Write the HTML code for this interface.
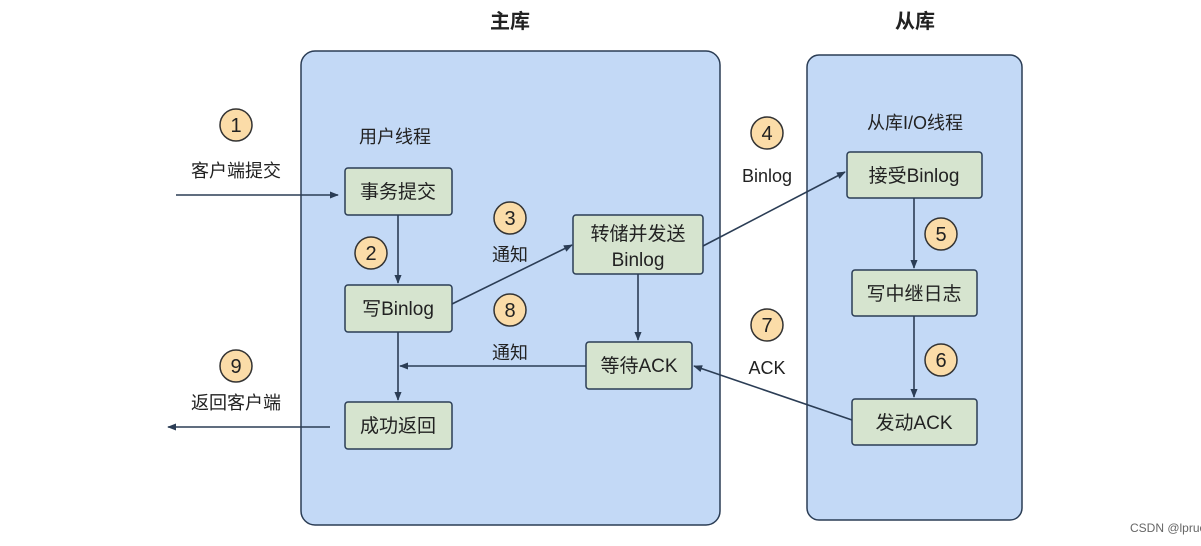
<!DOCTYPE html>
<html><head><meta charset="utf-8"><style>
html,body{margin:0;padding:0;background:#fff;}
svg{display:block;}
text{font-family:"Liberation Sans","Noto Sans CJK SC",sans-serif;fill:#222;}
</style></head><body>
<svg width="1201" height="546" viewBox="0 0 1201 546" xmlns="http://www.w3.org/2000/svg">
<defs>
<marker id="a" viewBox="0 0 10 10" refX="9" refY="5" markerWidth="9" markerHeight="9" orient="auto" markerUnits="userSpaceOnUse"><path d="M0,1 L10,5 L0,9 Z" fill="#2b3d55"/></marker>
</defs>
<rect x="301" y="51" width="419" height="474" rx="14" fill="#c3d9f6" stroke="#2b3d55" stroke-width="1.5"/>
<rect x="807" y="55" width="215" height="465" rx="12" fill="#c3d9f6" stroke="#2b3d55" stroke-width="1.5"/>
<text x="510" y="28" font-size="20" font-weight="bold" text-anchor="middle">主库</text>
<text x="915" y="28" font-size="20" font-weight="bold" text-anchor="middle">从库</text>
<g fill="#d6e4cf" stroke="#2b3d55" stroke-width="1.5">
<rect x="345" y="168" width="107" height="47" rx="3"/>
<rect x="345" y="285" width="107" height="47" rx="3"/>
<rect x="345" y="402" width="107" height="47" rx="3"/>
<rect x="573" y="215" width="130" height="59" rx="3"/>
<rect x="586" y="342" width="106" height="47" rx="3"/>
<rect x="847" y="152" width="135" height="46" rx="3"/>
<rect x="852" y="270" width="125" height="46" rx="3"/>
<rect x="852" y="399" width="125" height="46" rx="3"/>
</g>
<g font-size="19" text-anchor="middle">
<text x="398" y="198">事务提交</text>
<text x="398" y="315">写Binlog</text>
<text x="398" y="432">成功返回</text>
<text x="638" y="240">转储并发送</text>
<text x="638" y="266">Binlog</text>
<text x="639" y="372">等待ACK</text>
<text x="914" y="182">接受Binlog</text>
<text x="914" y="300">写中继日志</text>
<text x="914" y="429">发动ACK</text>
</g>
<g font-size="18" text-anchor="middle">
<text x="236" y="177">客户端提交</text>
<text x="395" y="143">用户线程</text>
<text x="510" y="261">通知</text>
<text x="510" y="359">通知</text>
<text x="767" y="182">Binlog</text>
<text x="767" y="374">ACK</text>
<text x="236" y="409">返回客户端</text>
<text x="915" y="129">从库I/O线程</text>
</g>
<g fill="#fbdca8" stroke="#333" stroke-width="1.5">
<circle cx="236" cy="125" r="16"/><circle cx="371" cy="253" r="16"/><circle cx="510" cy="218" r="16"/>
<circle cx="767" cy="133" r="16"/><circle cx="941" cy="234" r="16"/><circle cx="941" cy="360" r="16"/>
<circle cx="767" cy="325" r="16"/><circle cx="510" cy="310" r="16"/><circle cx="236" cy="366" r="16"/>
</g>
<g font-size="20" text-anchor="middle">
<text x="236" y="132">1</text><text x="371" y="260">2</text><text x="510" y="225">3</text>
<text x="767" y="140">4</text><text x="941" y="241">5</text><text x="941" y="367">6</text>
<text x="767" y="332">7</text><text x="510" y="317">8</text><text x="236" y="373">9</text>
</g>
<g stroke="#2b3d55" stroke-width="1.6" fill="none" marker-end="url(#a)">
<line x1="176" y1="195" x2="338" y2="195"/>
<line x1="398" y1="215" x2="398" y2="283"/>
<line x1="452" y1="304" x2="572" y2="245"/>
<line x1="703" y1="246" x2="845" y2="172"/>
<line x1="638" y1="274" x2="638" y2="340"/>
<line x1="914" y1="198" x2="914" y2="268"/>
<line x1="914" y1="316" x2="914" y2="397"/>
<line x1="852" y1="420" x2="694" y2="366"/>
<line x1="586" y1="366" x2="400" y2="366"/>
<line x1="398" y1="332" x2="398" y2="400"/>
<line x1="330" y1="427" x2="168" y2="427"/>
</g>
<text x="1130" y="532" font-size="12" fill="#666" style="fill:#666">CSDN @lpruoyu</text>
</svg>
</body></html>
